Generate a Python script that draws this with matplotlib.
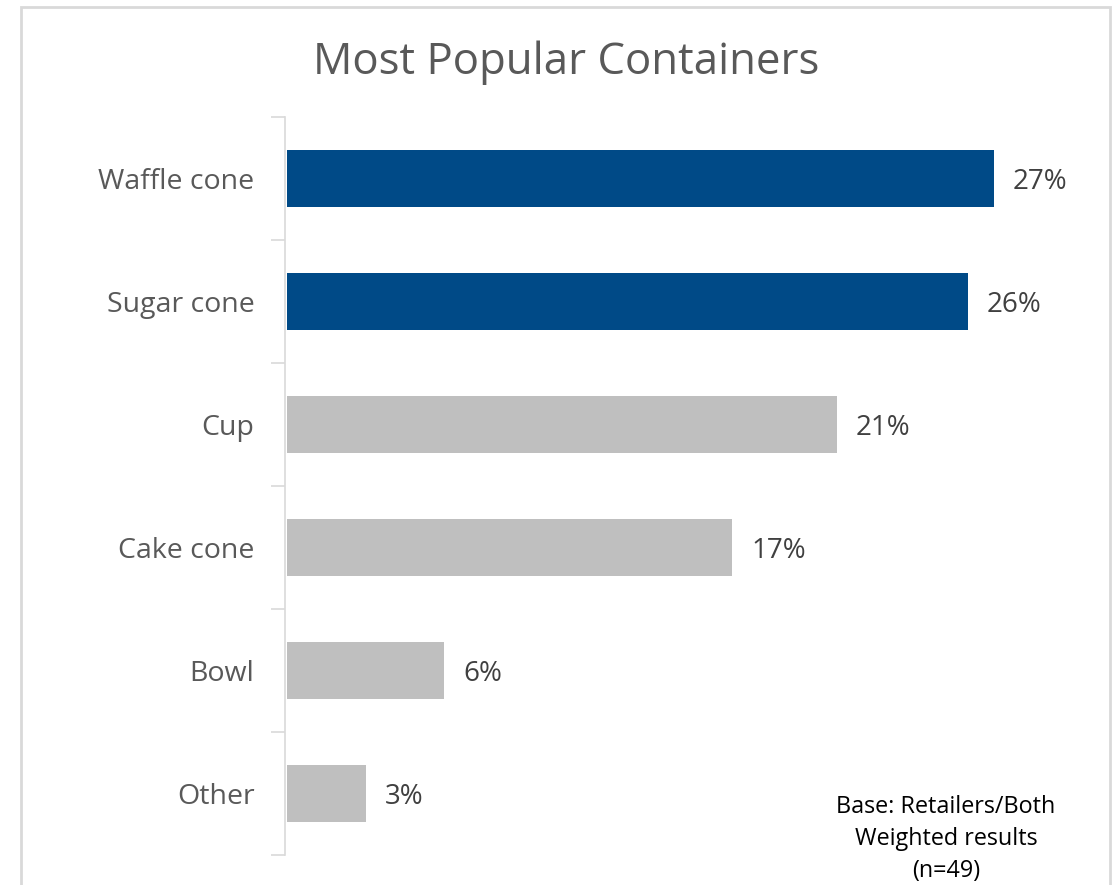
import matplotlib.pyplot as plt
from matplotlib.patches import Rectangle

categories = ["Waffle cone", "Sugar cone", "Cup", "Cake cone", "Bowl", "Other"]
values = [27, 26, 21, 17, 6, 3]
colors = ["#004A87", "#004A87", "#BFBFBF", "#BFBFBF", "#BFBFBF", "#BFBFBF"]

plt.rcParams["font.family"] = ["Open Sans", "DejaVu Sans"]

fig = plt.figure(figsize=(11.14, 8.85), dpi=100)

# light grey frame around the chart
fig.patches.append(Rectangle((21 / 1114, -0.05), (1110 - 21) / 1114, 1.05 - 7 / 885,
                             transform=fig.transFigure, fill=False,
                             edgecolor="#D9D9D9", linewidth=2))

ax = fig.add_axes([285 / 1114, 1 - 855 / 885, (1075 - 285) / 1114, (855 - 117) / 885])

y = list(range(len(categories)))
ax.barh(y, values, height=0.46, color=colors)
ax.set_ylim(len(categories) - 0.5, -0.5)
ax.set_xlim(-0.08, 30.1)

for i, v in enumerate(values):
    ax.text(v + 0.72, i + 0.025, f"{v}%", va="center", ha="left", fontsize=20, color="#404040")

ax.set_yticks(y)
ax.set_yticklabels(categories, fontsize=20.5, color="#595959")
ax.tick_params(axis="y", length=0, pad=22)
# boundary ticks between categories
ax.set_yticks([i - 0.5 for i in range(len(categories) + 1)], minor=True)
ax.tick_params(axis="y", which="minor", length=10, color="#D9D9D9", width=1.2)

ax.set_xticks([])
for s in ["top", "right", "bottom"]:
    ax.spines[s].set_visible(False)
ax.spines["left"].set_color("#D9D9D9")
ax.spines["left"].set_linewidth(1.2)

fig.text(566 / 1114, 1 - 63 / 885, "Most Popular Containers", ha="center", va="center",
         fontsize=31.5, color="#595959")

fig.text(946 / 1114, 2 / 885, "Base: Retailers/Both\nWeighted results\n(n=49)",
         ha="center", va="bottom", fontsize=16.8, color="black", linespacing=1.45)

fig.savefig("out.png", dpi=100)
